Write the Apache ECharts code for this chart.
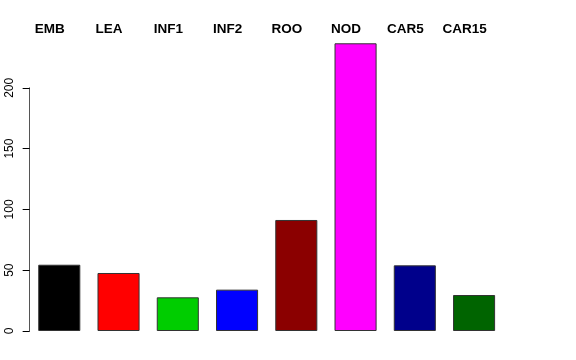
<!DOCTYPE html>
<html>
<head>
<meta charset="utf-8">
<script src="https://cdn.jsdelivr.net/npm/echarts@6/dist/echarts.min.js"></script>
<style>html,body{margin:0;padding:0;background:#fff;}#c{width:576px;height:360px;}</style>
</head>
<body>
<div id="c"></div>
<script>
var categories = ["EMB", "LEA", "INF1", "INF2", "ROO", "NOD", "CAR5", "CAR15"];
var values = [54.5, 47.7, 27.7, 34, 91.3, 236.6, 54, 29.6];
var colors = ["#000000", "#FF0000", "#00CD00", "#0000FF", "#8B0000", "#FF00FF", "#00008B", "#006400"];
var yTicks = [0, 50, 100, 150, 200];

var chart = echarts.init(document.getElementById('c'), null, {renderer: 'canvas'});
var gridLeft = 29.65, gridRight = 72.3;
chart.setOption({
  animation: false,
  backgroundColor: '#ffffff',
  grid: [
    {left: gridLeft, right: gridRight, top: 27, bottom: 29},
    {left: gridLeft, right: gridRight, top: 87.8, bottom: 29}
  ],
  xAxis: [
    {gridIndex: 0, type: 'category', data: categories, axisLine: {show: false}, axisTick: {show: false}, axisLabel: {show: false}},
    {gridIndex: 1, type: 'category', data: categories, position: 'top',
     axisLine: {show: false}, axisTick: {show: false},
     axisLabel: {show: true, interval: 0, margin: 58.5, verticalAlign: 'middle', align: 'center',
       padding: [0, 19, 0, 0],
       fontFamily: 'Liberation Sans, Arial, sans-serif', fontWeight: 'bold', fontSize: 13.5, color: '#000'}}
  ],
  yAxis: [
    {gridIndex: 0, type: 'value', min: 0, max: 250, show: false, splitLine: {show: false}},
    {gridIndex: 1, type: 'value', min: yTicks[0], max: yTicks[yTicks.length - 1], interval: 50,
     axisLine: {show: true, lineStyle: {color: '#555555', width: 1}},
     axisTick: {show: true, length: 7, lineStyle: {color: '#000', width: 1}},
     splitLine: {show: false},
     axisLabel: {rotate: 90, margin: 14, fontFamily: 'Liberation Sans, Arial, sans-serif', fontSize: 12, color: '#000'}}
  ],
  series: [
    {type: 'bar', xAxisIndex: 0, yAxisIndex: 0, barCategoryGap: '29%',
     data: values.map(function (v, i) {
       return {value: v, itemStyle: {color: colors[i], borderColor: '#333333', borderWidth: 1}};
     })},
    {type: 'bar', xAxisIndex: 1, yAxisIndex: 1, data: [], silent: true}
  ]
});
</script>
</body>
</html>
